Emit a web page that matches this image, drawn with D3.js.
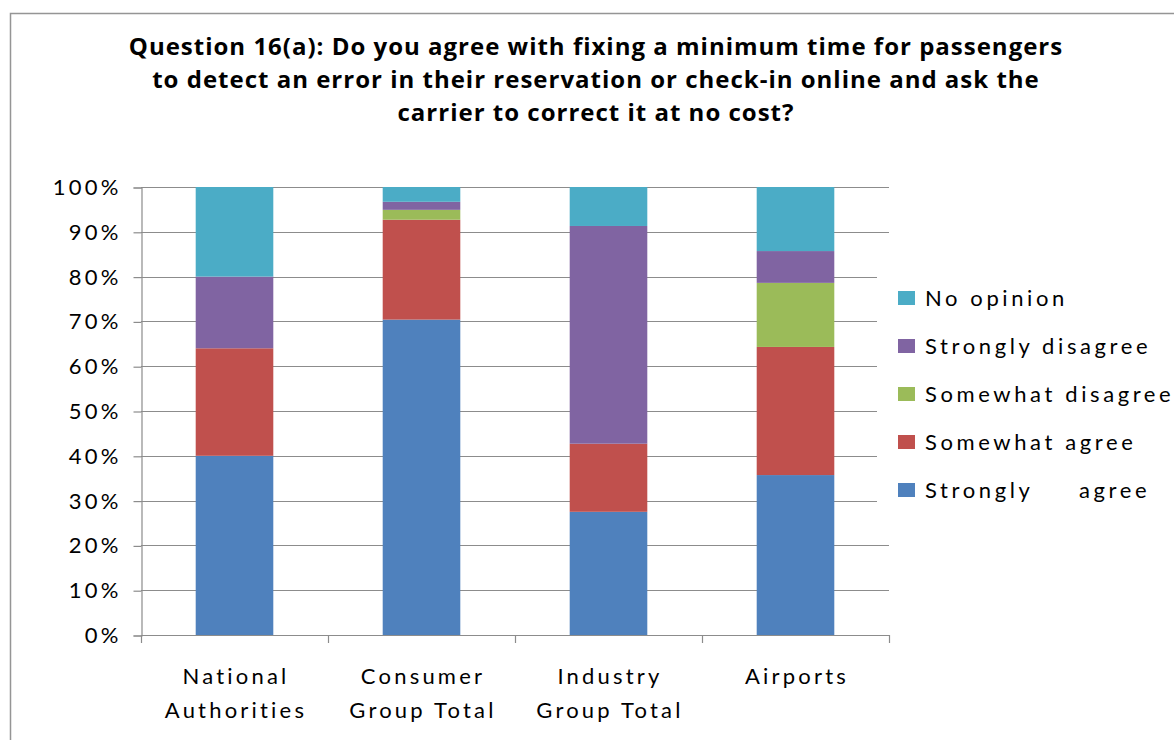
<!DOCTYPE html>
<html>
<head>
<meta charset="utf-8">
<script src="https://cdn.jsdelivr.net/npm/d3@7"></script>
<style>
  html, body { margin: 0; padding: 0; background: #fff; }
  svg { display: block; }
  text { fill: #000; }
</style>
</head>
<body>
<svg id="chart" width="1174" height="740"></svg>
<script>
// Survey responses, percent of respondents per group
const categories = ["National Authorities", "Consumer Group Total", "Industry Group Total", "Airports"];
const categoryLines = [["National", "Authorities"], ["Consumer", "Group Total"], ["Industry", "Group Total"], ["Airports"]];
const seriesNames = ["Strongly agree", "Somewhat agree", "Somewhat disagree", "Strongly disagree", "No opinion"];
const legendLabels = ["Strongly     agree", "Somewhat agree", "Somewhat disagree", "Strongly disagree", "No opinion"];
const stronglyAgree = [40.0, 70.4, 27.5, 35.7];
const somewhatAgree = [24.0, 22.3, 15.2, 28.6];
const somewhatDisagree = [0.0, 2.2, 0.0, 14.3];
const stronglyDisagree = [16.0, 1.8, 48.6, 7.1];
const noOpinion = [20.0, 3.3, 8.7, 14.3];
const yTicks = [0, 10, 20, 30, 40, 50, 60, 70, 80, 90, 100];
const titleLines = [
  "Question 16(a): Do you agree with fixing a minimum time for passengers",
  "to detect an error in their reservation or check-in online and ask the",
  "carrier to correct it at no cost?"
];

const colors = ["#4F81BD", "#C0504D", "#9BBB59", "#8064A2", "#4BACC6"];
const seriesValues = [stronglyAgree, somewhatAgree, somewhatDisagree, stronglyDisagree, noOpinion];

const rows = categories.map((c, i) => {
  const r = { category: c };
  seriesNames.forEach((s, j) => { r[s] = seriesValues[j][i]; });
  return r;
});

const svg = d3.select("#chart");
const gridColor = "#8c8c8c";
const labelFont = "Lato, 'Open Sans', sans-serif";

// Outer chart frame
svg.append("rect")
  .attr("x", 10.5).attr("y", 13.5)
  .attr("width", 1200).attr("height", 800)
  .attr("fill", "#fff")
  .attr("stroke", "#959595").attr("stroke-width", 1.5);

// Title
svg.append("g").selectAll("text")
  .data(titleLines)
  .join("text")
  .attr("x", 596)
  .attr("y", (d, i) => 55 + i * 33)
  .attr("text-anchor", "middle")
  .attr("font-family", "'Open Sans', sans-serif")
  .attr("font-weight", "bold")
  .attr("font-size", 24)
  .attr("letter-spacing", 1)
  .text(d => d);

const plot = { left: 141, right: 889, top: 187, bottom: 635 };

const y = d3.scaleLinear().domain([0, 100]).range([plot.bottom, plot.top]);
const x = d3.scaleBand().domain(categories).range([plot.left, plot.right]).padding(0);
const barWidth = x.bandwidth() * 0.415;

// Horizontal gridlines
svg.append("g").selectAll("line")
  .data(yTicks.filter(t => t > 0))
  .join("line")
  .attr("x1", plot.left).attr("x2", plot.right)
  .attr("y1", d => Math.round(y(d)) + 0.5).attr("y2", d => Math.round(y(d)) + 0.5)
  .attr("stroke", gridColor).attr("stroke-width", 1.2);

// Stacked bars
const stack = d3.stack().keys(seriesNames);
const layers = stack(rows);

svg.append("g").selectAll("g")
  .data(layers)
  .join("g")
  .attr("fill", (d, i) => colors[i])
  .selectAll("rect")
  .data(d => d)
  .join("rect")
  .attr("x", d => x(d.data.category) + (x.bandwidth() - barWidth) / 2)
  .attr("y", d => y(d[1]))
  .attr("width", barWidth)
  .attr("height", d => y(d[0]) - y(d[1]));

// Y axis
const yAxis = d3.axisLeft(y)
  .tickValues(yTicks)
  .tickFormat(d => d + "%")
  .tickSize(8)
  .tickPadding(12);

const yg = svg.append("g")
  .attr("transform", `translate(${plot.left + 0.5},0.5)`)
  .call(yAxis);
yg.select(".domain").attr("stroke", gridColor).attr("stroke-width", 1.2);
yg.selectAll(".tick line").attr("stroke", gridColor).attr("stroke-width", 1.2);
yg.selectAll(".tick text")
  .attr("font-family", labelFont)
  .attr("font-size", 22)
  .attr("letter-spacing", 3.2)
  .attr("fill", "#000");

// X axis line with ticks at category boundaries
const boundaries = categories.map(c => x(c)).concat([plot.right]);
const xg = svg.append("g");
xg.append("line")
  .attr("x1", plot.left).attr("x2", plot.right)
  .attr("y1", plot.bottom + 0.5).attr("y2", plot.bottom + 0.5)
  .attr("stroke", gridColor).attr("stroke-width", 1.2);
xg.selectAll("line.tick")
  .data(boundaries)
  .join("line")
  .attr("class", "tick")
  .attr("x1", d => Math.round(d) + 0.5).attr("x2", d => Math.round(d) + 0.5)
  .attr("y1", plot.bottom).attr("y2", plot.bottom + 8)
  .attr("stroke", gridColor).attr("stroke-width", 1.2);

const catText = xg.selectAll("text.cat")
  .data(categories)
  .join("text")
  .attr("class", "cat")
  .attr("text-anchor", "middle")
  .attr("font-family", labelFont)
  .attr("font-size", 22)
  .attr("letter-spacing", 3.2);
catText.selectAll("tspan")
  .data((d, i) => categoryLines[i].map(line => ({ line, cx: x(d) + x.bandwidth() / 2 + 1.5 })))
  .join("tspan")
  .attr("x", d => d.cx)
  .attr("y", (d, i) => 684 + i * 34)
  .text(d => d.line);

// Legend
const legend = svg.append("g");
legend.append("rect")
  .attr("x", 877).attr("y", 255)
  .attr("width", 297).attr("height", 270)
  .attr("fill", "#fff");

const legendOrder = seriesNames.map((s, i) => i).reverse();
const items = legend.selectAll("g.item")
  .data(legendOrder)
  .join("g")
  .attr("class", "item")
  .attr("transform", (d, i) => `translate(898, ${298 + i * 48})`);
items.append("rect")
  .attr("x", 0).attr("y", -7)
  .attr("width", 17).attr("height", 14)
  .attr("fill", d => colors[d]);
items.append("text")
  .attr("x", 27).attr("y", 8)
  .attr("font-family", labelFont)
  .attr("font-size", 22)
  .attr("letter-spacing", 3.6)
  .style("white-space", "pre")
  .text(d => legendLabels[d]);
</script>
</body>
</html>
